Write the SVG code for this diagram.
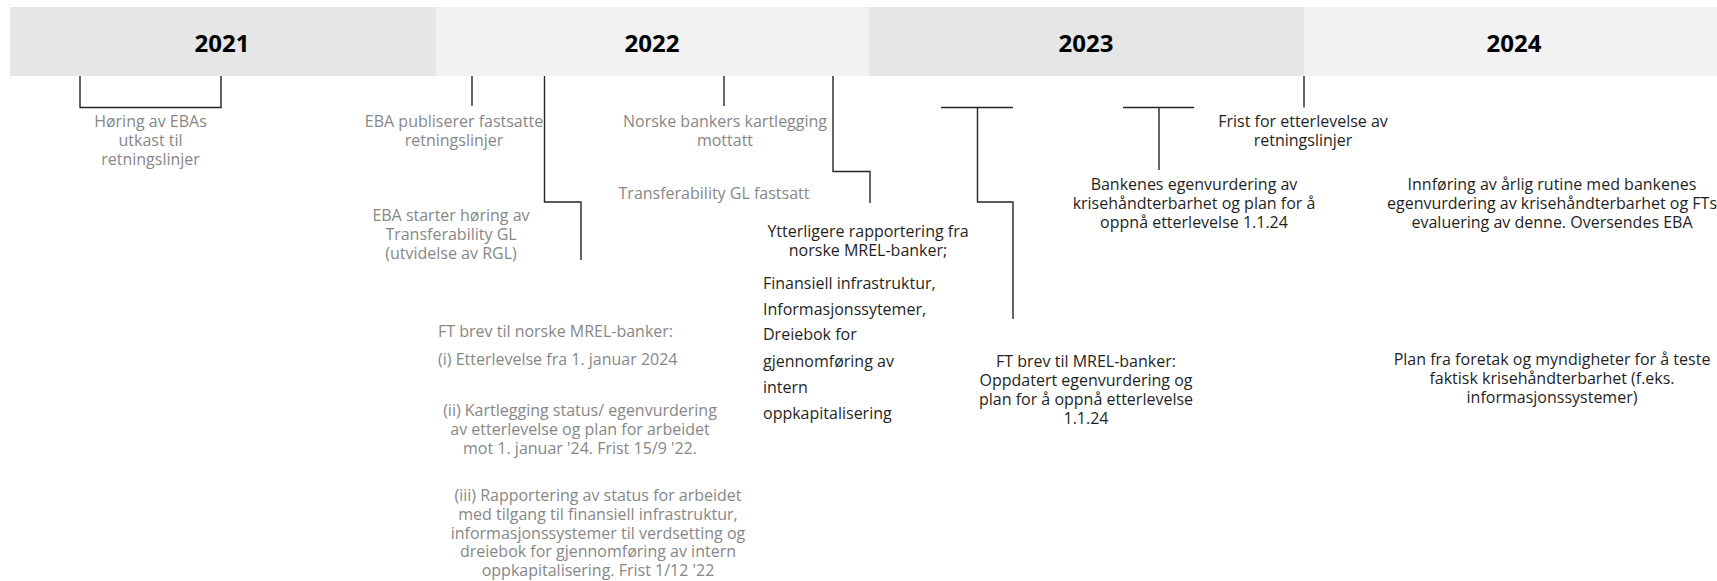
<svg xmlns="http://www.w3.org/2000/svg" width="1717" height="581" viewBox="0 0 1717 581">
<style>
.t{font-family:"Open Sans","Noto Sans","Liberation Sans",sans-serif;font-size:16px}
.g{fill:#878787}
.k{fill:#1f1f1f}
.c{text-anchor:middle}
.yr{font-family:"Open Sans","Noto Sans","Liberation Sans",sans-serif;font-size:24px;font-weight:bold;fill:#000;text-anchor:middle}
.ln{fill:none;stroke:#262626;stroke-width:1.4}
</style>
<rect width="1717" height="581" fill="#fff"/>
<g id="header">
<rect x="10" y="7" width="426" height="69" fill="#e6e6e6"/>
<rect x="436" y="7" width="433" height="69" fill="#f2f2f2"/>
<rect x="869" y="7" width="435" height="69" fill="#e6e6e6"/>
<rect x="1304" y="7" width="413" height="69" fill="#f2f2f2"/>
<text class="yr" x="222" y="52">2021</text>
<text class="yr" x="652" y="52">2022</text>
<text class="yr" x="1086" y="52">2023</text>
<text class="yr" x="1514" y="52">2024</text>
</g>
<g id="connectors">
<path class="ln" d="M80,76 V107.5 H221 V76"/>
<path class="ln" d="M472,76 V106"/>
<path class="ln" d="M544.5,76 V202 H581 V260"/>
<path class="ln" d="M724,76 V106"/>
<path class="ln" d="M833,76 V171.5 H870 V203"/>
<path class="ln" d="M941,107.5 H1013 M977.5,107.5 V202 H1013 V319"/>
<path class="ln" d="M1123,107.5 H1194 M1159,107.5 V170"/>
<path class="ln" d="M1304,76 V107.5"/>
</g>
<g id="n1" class="t g c">
<text x="150.5" y="127">Høring av EBAs</text>
<text x="150.5" y="146">utkast til</text>
<text x="150.5" y="165">retningslinjer</text>
</g>
<g id="n2" class="t g c">
<text x="454" y="127">EBA publiserer fastsatte</text>
<text x="454" y="146">retningslinjer</text>
</g>
<g id="n3" class="t g c">
<text x="451" y="221">EBA starter høring av</text>
<text x="451" y="240">Transferability GL</text>
<text x="451" y="259">(utvidelse av RGL)</text>
</g>
<g id="n4" class="t g c">
<text x="725" y="127">Norske bankers kartlegging</text>
<text x="725" y="146">mottatt</text>
</g>
<g id="n5" class="t g c">
<text x="714" y="199">Transferability GL fastsatt</text>
</g>
<g id="n6" class="t k">
<text class="c" x="868" y="237">Ytterligere rapportering fra</text>
<text class="c" x="868" y="256">norske MREL-banker;</text>
<text x="763" y="289">Finansiell infrastruktur,</text>
<text x="763" y="315">Informasjonssytemer,</text>
<text x="763" y="340">Dreiebok for</text>
<text x="763" y="367">gjennomføring av</text>
<text x="763" y="393">intern</text>
<text x="763" y="419">oppkapitalisering</text>
</g>
<g id="n7" class="t g">
<text x="438" y="337">FT brev til norske MREL-banker:</text>
<text x="438" y="365">(i) Etterlevelse fra 1. januar 2024</text>
<text class="c" x="580" y="416">(ii) Kartlegging status/ egenvurdering</text>
<text class="c" x="580" y="435">av etterlevelse og plan for arbeidet</text>
<text class="c" x="580" y="454">mot 1. januar '24. Frist 15/9 '22.</text>
<text class="c" x="598" y="501">(iii) Rapportering av status for arbeidet</text>
<text class="c" x="598" y="520">med tilgang til finansiell infrastruktur,</text>
<text class="c" x="598" y="539">informasjonssystemer til verdsetting og</text>
<text class="c" x="598" y="557">dreiebok for gjennomføring av intern</text>
<text class="c" x="598" y="576">oppkapitalisering. Frist 1/12 '22</text>
</g>
<g id="n8" class="t k c">
<text x="1086" y="367">FT brev til MREL-banker:</text>
<text x="1086" y="386">Oppdatert egenvurdering og</text>
<text x="1086" y="405">plan for å oppnå etterlevelse</text>
<text x="1086" y="424">1.1.24</text>
</g>
<g id="n9" class="t k c">
<text x="1194" y="190">Bankenes egenvurdering av</text>
<text x="1194" y="209">krisehåndterbarhet og plan for å</text>
<text x="1194" y="228">oppnå etterlevelse 1.1.24</text>
</g>
<g id="n10" class="t k c">
<text x="1303" y="127">Frist for etterlevelse av</text>
<text x="1303" y="146">retningslinjer</text>
</g>
<g id="n11" class="t k c">
<text x="1552" y="190">Innføring av årlig rutine med bankenes</text>
<text x="1552" y="209">egenvurdering av krisehåndterbarhet og FTs</text>
<text x="1552" y="228">evaluering av denne. Oversendes EBA</text>
</g>
<g id="n12" class="t k c">
<text x="1552" y="365">Plan fra foretak og myndigheter for å teste</text>
<text x="1552" y="384">faktisk krisehåndterbarhet (f.eks.</text>
<text x="1552" y="403">informasjonssystemer)</text>
</g>
</svg>
